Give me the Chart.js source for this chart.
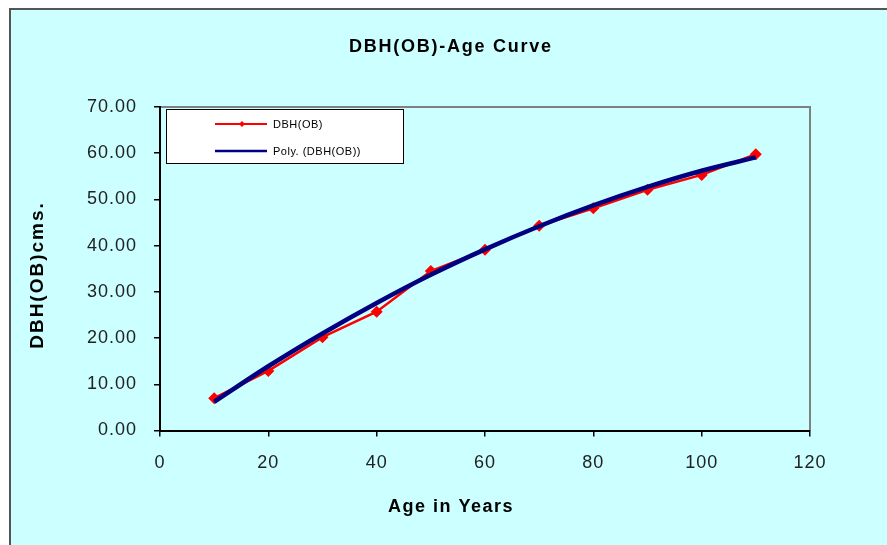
<!DOCTYPE html>
<html>
<head>
<meta charset="utf-8">
<script src="https://cdn.jsdelivr.net/npm/chart.js@4"></script>
<style>
  html, body { margin: 0; padding: 0; background: #ffffff; }
  #wrap { width: 887px; height: 545px; }
</style>
</head>
<body>
<div id="wrap"><canvas id="c" width="887" height="545"></canvas></div>
<script>
// ---- data ----
const ages = [10, 20, 30, 40, 50, 60, 70, 80, 90, 100, 110];
const dbhValues = [7.0, 12.9, 20.2, 25.7, 34.5, 39.1, 44.3, 48.1, 52.1, 55.3, 59.8];
const trendValues = [6.2, 13.9, 21.0, 27.6, 33.7, 39.2, 44.2, 48.7, 52.7, 56.2, 59.1];
const yTickLabels = ['0.00', '10.00', '20.00', '30.00', '40.00', '50.00', '60.00', '70.00'];
const xTickLabels = ['0', '20', '40', '60', '80', '100', '120'];
const seriesNames = ['DBH(OB)', 'Poly. (DBH(OB))'];
const chartTitle = 'DBH(OB)-Age Curve';
const xTitle = 'Age in Years';
const yTitle = 'DBH(OB)cms.';

const BG = '#CCFFFF';

const framePlugin = {
  id: 'frame',
  beforeDraw(chart) {
    const ctx = chart.ctx;
    ctx.save();
    ctx.fillStyle = '#ffffff';
    ctx.fillRect(0, 0, chart.width, chart.height);
    ctx.fillStyle = BG;
    ctx.fillRect(9, 9, chart.width, chart.height);
    ctx.strokeStyle = '#555555';
    ctx.lineWidth = 2;
    ctx.beginPath();
    ctx.moveTo(10, chart.height + 5);
    ctx.lineTo(10, 9);
    ctx.lineTo(chart.width + 5, 9);
    ctx.stroke();
    // plot area top/right grey border
    const a = chart.chartArea;
    ctx.strokeStyle = '#808080';
    ctx.lineWidth = 2;
    ctx.beginPath();
    ctx.moveTo(a.left, a.top);
    ctx.lineTo(a.right, a.top);
    ctx.lineTo(a.right, a.bottom);
    ctx.stroke();
    ctx.restore();
    chart.ctx.letterSpacing = '1px';
  },
  afterDraw(chart) {
    const ctx = chart.ctx;
    ctx.save();
    ctx.fillStyle = '#000000';
    ctx.textAlign = 'center';
    ctx.textBaseline = 'middle';
    ctx.font = 'bold 18px "Liberation Sans", Arial, sans-serif';
    ctx.letterSpacing = '1.75px';
    ctx.fillText(chartTitle, 451, 47);
    ctx.letterSpacing = '1.5px';
    ctx.fillText(xTitle, 451, 507);
    ctx.save();
    ctx.translate(38, 275);
    ctx.rotate(-Math.PI / 2);
    ctx.font = 'bold 19px "Liberation Sans", Arial, sans-serif';
    ctx.letterSpacing = '2px';
    ctx.fillText(yTitle, 0, 0);
    ctx.restore();

    // legend box
    ctx.fillStyle = '#ffffff';
    ctx.fillRect(166, 109, 237, 54);
    ctx.strokeStyle = '#000000';
    ctx.lineWidth = 1;
    ctx.strokeRect(166.5, 109.5, 237, 54);
    const ds = chart.data.datasets;
    const ys = [124, 151];
    [ds[0], ds[1]].forEach((d, i) => {
      ctx.strokeStyle = d.borderColor;
      ctx.lineWidth = i === 0 ? 2 : 2.5;
      ctx.beginPath();
      ctx.moveTo(215, ys[i]);
      ctx.lineTo(267, ys[i]);
      ctx.stroke();
      if (i === 0) {
        ctx.fillStyle = d.borderColor;
        ctx.beginPath();
        ctx.moveTo(242, ys[i] - 3);
        ctx.lineTo(245, ys[i]);
        ctx.lineTo(242, ys[i] + 3);
        ctx.lineTo(239, ys[i]);
        ctx.closePath();
        ctx.fill();
      }
      ctx.fillStyle = '#000000';
      ctx.textAlign = 'left';
      ctx.letterSpacing = '0.5px';
      ctx.font = '11px "Liberation Sans", Arial, sans-serif';
      ctx.fillText(d.label, 273, ys[i] + 1);
    });
    ctx.restore();
  }
};

const chart = new Chart(document.getElementById('c'), {
  type: 'line',
  data: {
    datasets: [
      {
        label: seriesNames[0],
        data: ages.map((a, i) => ({ x: a, y: dbhValues[i] })),
        borderColor: '#FF0000',
        backgroundColor: '#FF0000',
        borderWidth: 2.5,
        pointStyle: 'rectRot',
        pointRadius: 6,
        pointBorderWidth: 0,
        tension: 0,
        order: 2
      },
      {
        label: seriesNames[1],
        data: ages.map((a, i) => ({ x: a, y: trendValues[i] })),
        borderColor: '#000080',
        backgroundColor: '#000080',
        borderWidth: 4.5,
        pointRadius: 0,
        cubicInterpolationMode: 'monotone',
        order: 1
      }
    ]
  },
  options: {
    responsive: false,
    animation: false,
    devicePixelRatio: 1,
    layout: { padding: { left: 0, top: 107, right: 77, bottom: 0 } },
    plugins: {
      legend: { display: false },
      title: { display: false },
      tooltip: { enabled: false }
    },
    scales: {
      x: {
        type: 'linear',
        min: 0, max: 120,
        afterFit(s) { s.height = 114.5; },
        afterBuildTicks(s) { s.ticks = xTickLabels.map(v => ({ value: Number(v) })); },
        ticks: {
          padding: 16,
          color: '#222222',
          font: { family: '"Liberation Sans", Arial, sans-serif', size: 18 },
          callback: (v) => xTickLabels[xTickLabels.indexOf(String(v))] ?? ''
        },
        grid: { display: true, drawOnChartArea: false, drawTicks: true, tickLength: 6, color: '#000000', lineWidth: 1.5 },
        border: { display: true, color: '#000000', width: 2 }
      },
      y: {
        type: 'linear',
        min: 0, max: 70,
        afterFit(s) { s.width = 160; },
        afterBuildTicks(s) { s.ticks = yTickLabels.map(v => ({ value: Number(v) })); },
        ticks: {
          padding: 17,
          color: '#222222',
          font: { family: '"Liberation Sans", Arial, sans-serif', size: 18 },
          callback: (v) => yTickLabels[Math.round(v / 10)]
        },
        grid: { display: true, drawOnChartArea: false, drawTicks: true, tickLength: 6, color: '#000000', lineWidth: 1.5 },
        border: { display: true, color: '#000000', width: 2 }
      }
    }
  },
  plugins: [framePlugin]
});
</script>
</body>
</html>
